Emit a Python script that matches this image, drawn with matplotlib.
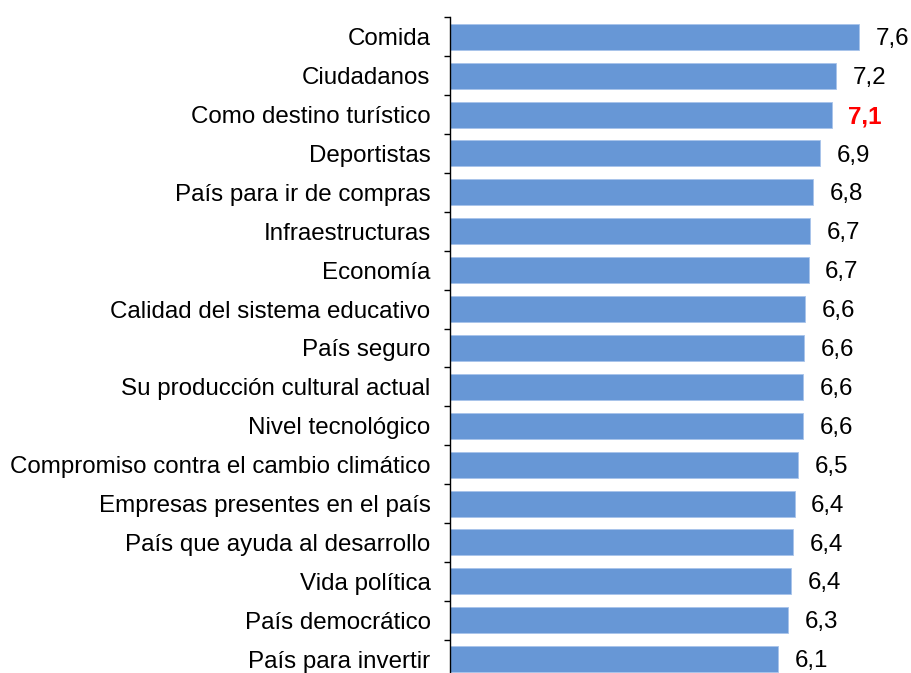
import matplotlib.pyplot as plt
from matplotlib.ticker import FixedLocator

plt.rcParams['font.family'] = ['Liberation Sans', 'DejaVu Sans']

categories = ["Comida", "Ciudadanos", "Como destino turístico", "Deportistas",
              "País para ir de compras", "Infraestructuras", "Economía",
              "Calidad del sistema educativo", "País seguro",
              "Su producción cultural actual", "Nivel tecnológico",
              "Compromiso contra el cambio climático",
              "Empresas presentes en el país", "País que ayuda al desarrollo",
              "Vida política", "País democrático", "País para invertir"]
values = [7.61, 7.18, 7.10, 6.88, 6.75, 6.70, 6.67, 6.60, 6.59, 6.57, 6.56,
          6.47, 6.41, 6.39, 6.34, 6.29, 6.10]
value_labels = ["7,6", "7,2", "7,1", "6,9", "6,8", "6,7", "6,7", "6,6", "6,6",
                "6,6", "6,6", "6,5", "6,4", "6,4", "6,4", "6,3", "6,1"]
highlight = "Como destino turístico"

W, H = 911, 673
fig = plt.figure(figsize=(W / 100, H / 100), dpi=100)
# axis line at x=450px, category band 17..678px
ax = fig.add_axes([450 / W, (H - 678.6) / H, (W - 450) / W, 661.3 / H])

ypos = list(range(len(categories)))
ax.barh(ypos, values, height=0.67, color="#6797d6", edgecolor="#a8c3ea", linewidth=0.6)

ax.set_xlim(0, (W - 450) / 53.75)
ax.set_ylim(len(categories) - 0.5, -0.5)

fs = 17.4
ax.set_yticks(ypos)
ax.set_yticklabels(categories, fontsize=fs)
ax.tick_params(axis="y", which="major", length=0, pad=14)
ax.yaxis.set_minor_locator(FixedLocator([i - 0.5 for i in range(len(categories) + 1)]))
ax.tick_params(axis="y", which="minor", length=4, width=1, color="black")
ax.set_xticks([])

for s in ["top", "right", "bottom"]:
    ax.spines[s].set_visible(False)
ax.spines["left"].set_linewidth(1)

for y, v, lab, cat in zip(ypos, values, value_labels, categories):
    if cat == highlight:
        ax.annotate(lab, (v, y), xytext=(12, -1.5), textcoords="offset points",
                    va="center", ha="left", fontsize=fs, color="red", fontweight="bold")
    else:
        ax.annotate(lab, (v, y), xytext=(12, -1.5), textcoords="offset points",
                    va="center", ha="left", fontsize=fs, color="black")

fig.savefig("out.png", dpi=100)
